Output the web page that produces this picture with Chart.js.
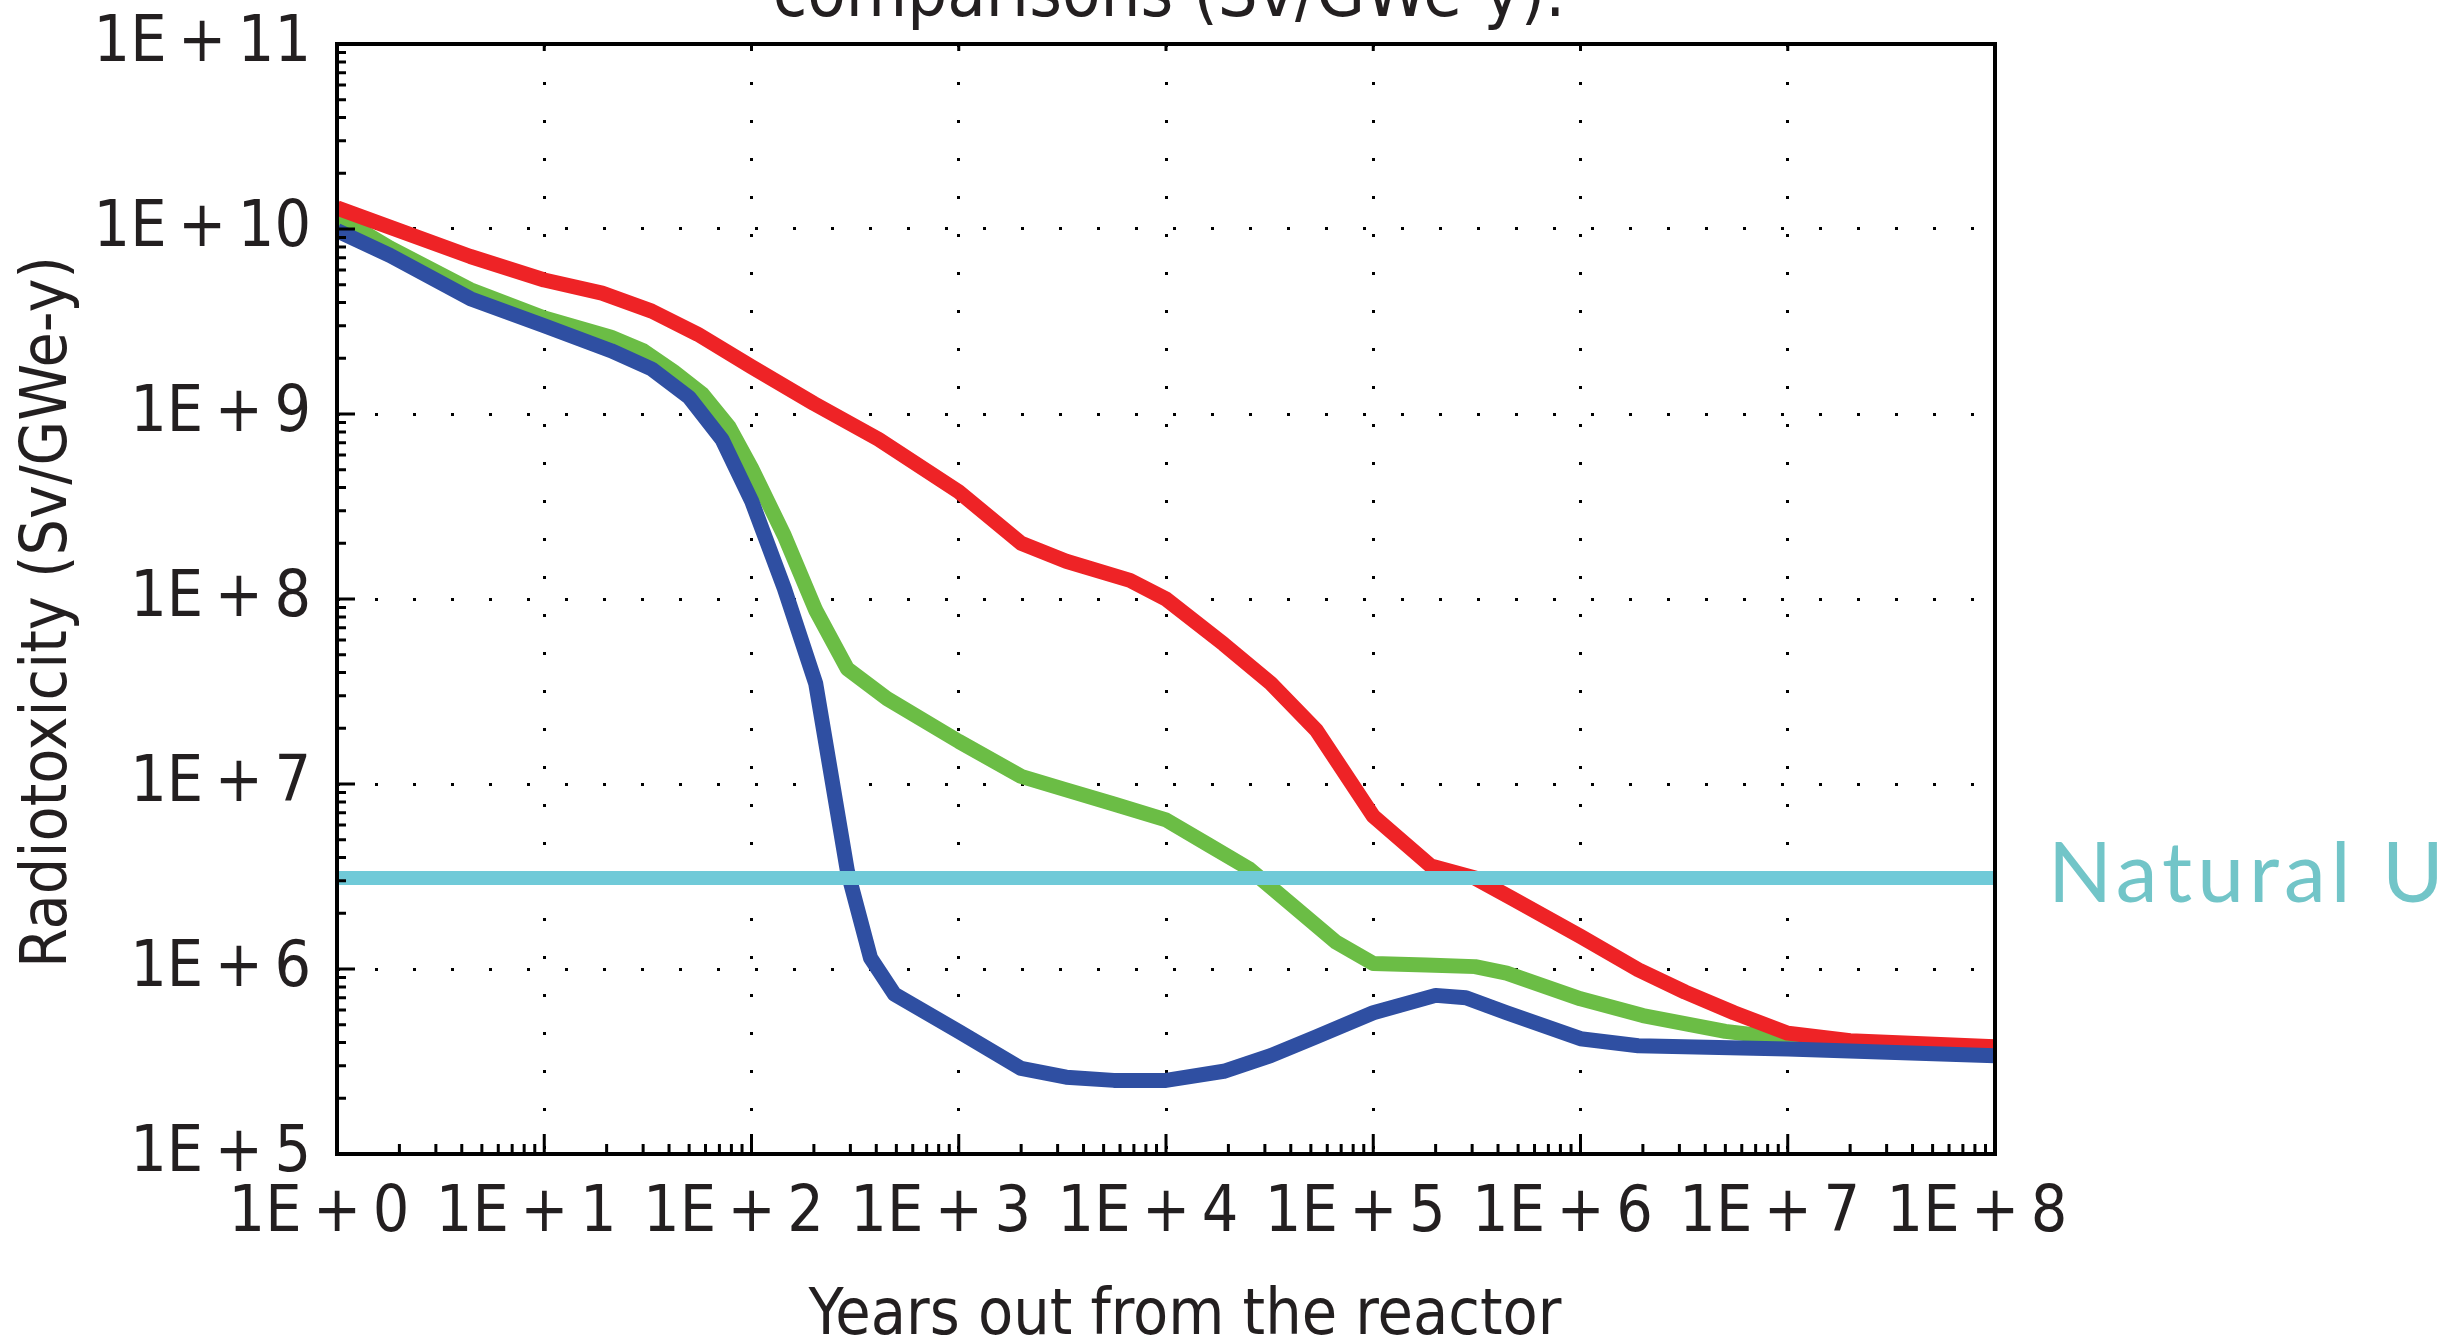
<!DOCTYPE html>
<html>
<head>
<meta charset="utf-8">
<script src="https://cdn.jsdelivr.net/npm/chart.js@4.4.1/dist/chart.umd.min.js"></script>
<style>
  html, body { margin: 0; padding: 0; background: #fff; }
  #wrap { width: 2461px; height: 1338px; position: relative; }
</style>
</head>
<body>
<div id="wrap"><canvas id="radiotoxicityChart"></canvas></div>
<script>
// values (years, Sv/GWe-y)
const redYears = [1, 4.4, 10, 19, 33, 55, 100, 200, 410, 1000, 2000, 3300, 6700, 1e4, 1.9e4, 3.2e4, 5.3e4, 1e5, 1.9e5, 3.1e5, 4.7e5, 1e6, 1.9e6, 3.2e6, 5.5e6, 1e7, 2e7, 1e8];
const redValues = [1.3e10, 7.1e9, 5.3e9, 4.5e9, 3.6e9, 2.7e9, 1.8e9, 1.14e9, 7.3e8, 3.8e8, 2.0e8, 1.6e8, 1.26e8, 1.0e8, 5.7e7, 3.5e7, 1.96e7, 6.7e6, 3.6e6, 3.1e6, 2.4e6, 1.5e6, 9.9e5, 7.5e5, 5.8e5, 4.5e5, 4.1e5, 3.8e5];

const greenYears = [1, 1.8, 4.4, 10, 21, 30, 42, 58, 78, 100, 144, 204, 290, 450, 1000, 2000, 3300, 5600, 1e4, 1.6e4, 2.5e4, 3.9e4, 6.6e4, 1e5, 1.8e5, 3.1e5, 4.4e5, 1e6, 2e6, 5e6, 1e7, 1e8];
const greenValues = [1.17e10, 7.9e9, 4.7e9, 3.3e9, 2.6e9, 2.2e9, 1.7e9, 1.28e9, 8.5e8, 5.1e8, 2.2e8, 8.7e7, 4.2e7, 2.9e7, 1.7e7, 1.1e7, 9.3e6, 7.8e6, 6.4e6, 4.7e6, 3.5e6, 2.3e6, 1.4e6, 1.07e6, 1.05e6, 1.03e6, 9.5e5, 6.9e5, 5.6e5, 4.6e5, 4.2e5, 3.7e5];

const blueYears = [1, 1.8, 4.4, 10, 21, 33, 50, 72, 100, 144, 204, 290, 375, 490, 1000, 2000, 3300, 5600, 1e4, 1.9e4, 3.2e4, 5.3e4, 1e5, 2e5, 2.8e5, 4.4e5, 1e6, 1.9e6, 1e7, 1e8];
const blueValues = [9.8e9, 7.2e9, 4.2e9, 3.0e9, 2.2e9, 1.75e9, 1.23e9, 7.3e8, 3.4e8, 1.14e8, 3.5e7, 3.4e6, 1.15e6, 7.3e5, 4.6e5, 2.9e5, 2.6e5, 2.5e5, 2.5e5, 2.8e5, 3.4e5, 4.3e5, 5.8e5, 7.2e5, 7.0e5, 5.8e5, 4.2e5, 3.85e5, 3.7e5, 3.4e5];

const naturalUYears = [1, 1e8];
const naturalUValues = [3.1e6, 3.1e6];

const xDecades = [1, 1e1, 1e2, 1e3, 1e4, 1e5, 1e6, 1e7, 1e8];
const yDecades = [1e5, 1e6, 1e7, 1e8, 1e9, 1e10, 1e11];

const FONT = "'Liberation Sans Narrow', 'DejaVu Sans Condensed', 'Liberation Sans', sans-serif";

function toPoints(xs, ys) {
    return xs.map((x, i) => ({ x: x, y: ys[i] }));
}

function decadeLabel(value) {
    // thin spaces, the original labels are set tight
    return '1E\u2009+\u2009' + Math.round(Math.log10(value));
}

// inward tick marks, frame and the loose texts
const decorPlugin = {
    id: 'decor',
    afterDraw(chart) {
        const ctx = chart.ctx;
        const a = chart.chartArea;
        const xs = chart.scales.x;
        const ys = chart.scales.y;
        ctx.save();
        ctx.strokeStyle = '#000';
        ctx.lineWidth = 3;
        ctx.beginPath();
        // left axis minor/major ticks
        for (let d = 5; d < 11; d++) {
            for (let k = 1; k < 10; k++) {
                const py = ys.getPixelForValue(k * Math.pow(10, d));
                const len = k === 1 ? 18 : 9;
                ctx.moveTo(a.left, py);
                ctx.lineTo(a.left + len, py);
            }
        }
        // bottom axis ticks
        for (let d = 0; d < 8; d++) {
            for (let k = 1; k < 10; k++) {
                const px = xs.getPixelForValue(k * Math.pow(10, d));
                const len = k === 1 ? 20 : 10;
                ctx.moveTo(px, a.bottom);
                ctx.lineTo(px, a.bottom - len);
            }
        }
        // top axis: decades only
        xDecades.forEach(v => {
            const px = xs.getPixelForValue(v);
            ctx.moveTo(px, a.top);
            ctx.lineTo(px, a.top + 7);
        });
        ctx.stroke();

        ctx.lineWidth = 4;
        ctx.strokeRect(a.left, a.top, a.right - a.left, a.bottom - a.top);

        // texts
        ctx.fillStyle = '#231f20';
        ctx.font = '70px ' + FONT;
        ctx.textAlign = 'center';
        ctx.textBaseline = 'alphabetic';
        ctx.fillText('comparisons (Sv/GWe-y).', 1169, 16);
        ctx.font = '64px ' + FONT;
        ctx.fillText('Years out from the reactor', 1185, 1334);

        ctx.save();
        ctx.translate(66, 612);
        ctx.rotate(-Math.PI / 2);
        ctx.fillText('Radiotoxicity (Sv/GWe-y)', 0, 0);
        ctx.restore();

        ctx.fillStyle = '#72c5c8';
        ctx.font = '84px Lato, "Open Sans", sans-serif';
        ctx.letterSpacing = '5px';
        ctx.textAlign = 'left';
        ctx.fillText('Natural U', 2048, 902);
        ctx.restore();
    }
};

var ctx = document.getElementById('radiotoxicityChart').getContext('2d');

new Chart(ctx, {
    type: 'line',
    data: {
        datasets: [
            {
                label: 'Natural U',
                data: toPoints(naturalUYears, naturalUValues),
                borderColor: '#70cad8',
                borderWidth: 14
            },
            {
                label: 'Blue',
                data: toPoints(blueYears, blueValues),
                borderColor: '#2f4fa2'
            },
            {
                label: 'Red',
                data: toPoints(redYears, redValues),
                borderColor: '#ee2326'
            },
            {
                label: 'Green',
                data: toPoints(greenYears, greenValues),
                borderColor: '#6bbd45'
            }
        ]
    },
    options: {
        responsive: true,
        maintainAspectRatio: false,
        animation: false,
        layout: {
            padding: { left: 0, right: 466, top: 44, bottom: 0 }
        },
        elements: {
            line: {
                borderWidth: 15,
                tension: 0,
                fill: false,
                borderJoinStyle: 'round',
                borderCapStyle: 'butt'
            },
            point: { radius: 0, hoverRadius: 0 }
        },
        plugins: {
            legend: { display: false },
            tooltip: { enabled: false }
        },
        scales: {
            x: {
                type: 'logarithmic',
                min: 1,
                max: 1e8,
                afterBuildTicks: scale => {
                    scale.ticks = xDecades.map(v => ({ value: v }));
                },
                afterFit: scale => {
                    scale.height = 184;
                    scale.paddingLeft = 0;
                    scale.paddingRight = 0;
                },
                ticks: {
                    autoSkip: false,
                    maxRotation: 0,
                    padding: 22,
                    labelOffset: -18,
                    color: '#231f20',
                    font: { family: FONT, size: 64 },
                    callback: decadeLabel
                },
                grid: {
                    color: '#000',
                    lineWidth: 3,
                    drawTicks: false
                },
                border: { display: false, dash: [3, 35] }
            },
            y: {
                type: 'logarithmic',
                min: 1e5,
                max: 1e11,
                afterBuildTicks: scale => {
                    scale.ticks = yDecades.map(v => ({ value: v }));
                },
                afterFit: scale => {
                    scale.width = 337;
                    scale.paddingTop = 0;
                    scale.paddingBottom = 0;
                },
                ticks: {
                    autoSkip: false,
                    padding: 26,
                    color: '#231f20',
                    font: { family: FONT, size: 64 },
                    callback: decadeLabel
                },
                grid: {
                    color: '#000',
                    lineWidth: 3,
                    drawTicks: false
                },
                border: { display: false, dash: [3, 35] }
            }
        }
    },
    plugins: [decorPlugin]
});
</script>
</body>
</html>
